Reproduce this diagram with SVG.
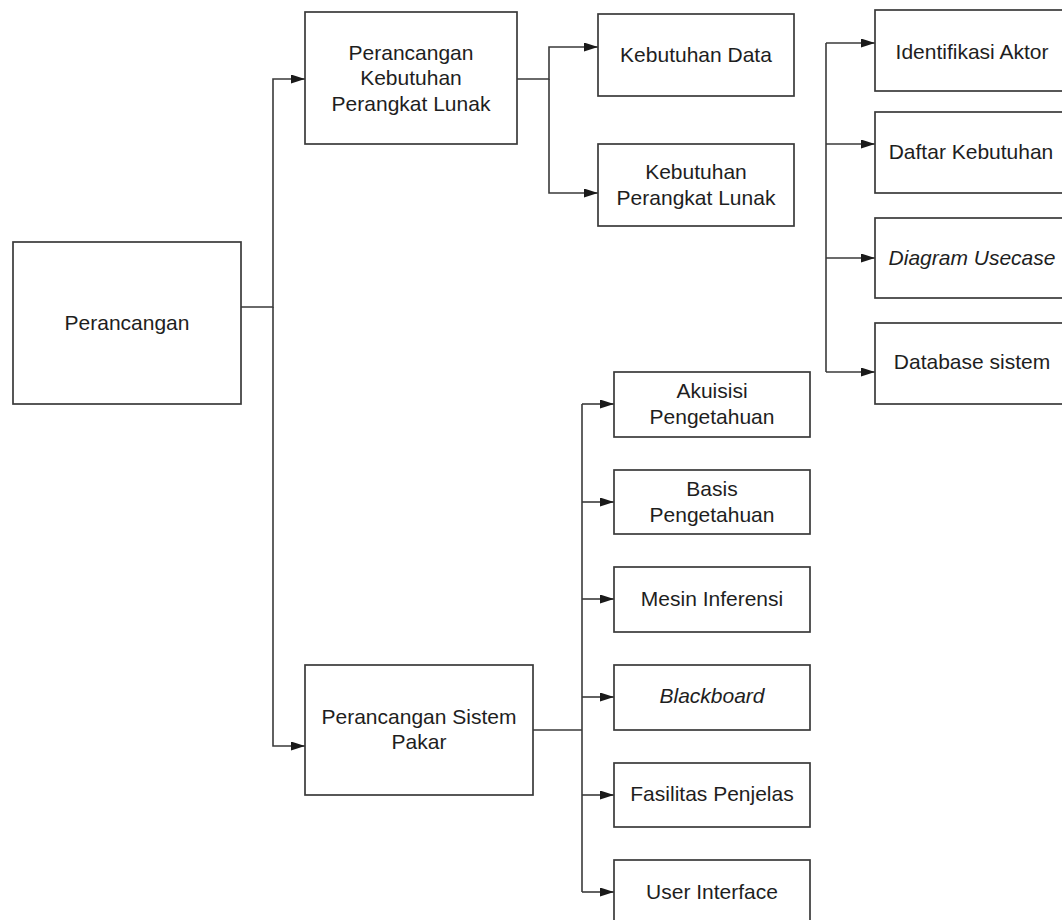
<svg xmlns="http://www.w3.org/2000/svg" width="1062" height="920" viewBox="0 0 1062 920">
<defs>
<style>
.box{fill:#fff;stroke:#3a3a3a;stroke-width:1.7}
.ln{fill:none;stroke:#3a3a3a;stroke-width:1.6}
.t{font-family:"Liberation Sans",Arial,sans-serif;font-size:21px;fill:#1e1e1e;text-anchor:middle}
.i{font-style:italic}
</style>
<marker id="ah" markerUnits="userSpaceOnUse" markerWidth="15" markerHeight="10" refX="14" refY="4.5" orient="auto">
<path d="M0,0 L14,4.5 L0,9 z" fill="#1a1a1a"/>
</marker>
</defs>
<rect width="1062" height="920" fill="#fff"/>
<g id="connectors">
<path class="ln" d="M241,307 H273 V79 H305" marker-end="url(#ah)"/>
<path class="ln" d="M273,307 V746 H305" marker-end="url(#ah)"/>
<path class="ln" d="M517,79 H549 V47 H598" marker-end="url(#ah)"/>
<path class="ln" d="M549,79 V193 H598" marker-end="url(#ah)"/>
<path class="ln" d="M826,43 V372"/>
<path class="ln" d="M826,43 H875" marker-end="url(#ah)"/>
<path class="ln" d="M826,144 H875" marker-end="url(#ah)"/>
<path class="ln" d="M826,258 H875" marker-end="url(#ah)"/>
<path class="ln" d="M826,372 H875" marker-end="url(#ah)"/>
<path class="ln" d="M533,730 H582"/>
<path class="ln" d="M582,404 V892"/>
<path class="ln" d="M582,404 H614" marker-end="url(#ah)"/>
<path class="ln" d="M582,502 H614" marker-end="url(#ah)"/>
<path class="ln" d="M582,599 H614" marker-end="url(#ah)"/>
<path class="ln" d="M582,697 H614" marker-end="url(#ah)"/>
<path class="ln" d="M582,795 H614" marker-end="url(#ah)"/>
<path class="ln" d="M582,892 H614" marker-end="url(#ah)"/>
</g>
<g id="perancangan">
<rect class="box" x="13" y="242" width="228" height="162"/>
<text class="t" x="127" y="330">Perancangan</text>
</g>
<g id="pkpl">
<rect class="box" x="305" y="12" width="212" height="132"/>
<text class="t" x="411" y="59.5">Perancangan</text>
<text class="t" x="411" y="85">Kebutuhan</text>
<text class="t" x="411" y="110.5">Perangkat Lunak</text>
</g>
<g id="kebutuhan-data">
<rect class="box" x="598" y="14" width="196" height="82"/>
<text class="t" x="696" y="61.5">Kebutuhan Data</text>
</g>
<g id="kebutuhan-pl">
<rect class="box" x="598" y="144" width="196" height="82"/>
<text class="t" x="696" y="178.5">Kebutuhan</text>
<text class="t" x="696" y="204.5">Perangkat Lunak</text>
</g>
<g id="identifikasi-aktor">
<rect class="box" x="875" y="10" width="194" height="81"/>
<text class="t" x="972" y="59">Identifikasi Aktor</text>
</g>
<g id="daftar-kebutuhan">
<rect class="box" x="875" y="112" width="194" height="81"/>
<text class="t" x="971" y="159">Daftar Kebutuhan</text>
</g>
<g id="diagram-usecase">
<rect class="box" x="875" y="218" width="194" height="80"/>
<text class="t i" x="972" y="265">Diagram Usecase</text>
</g>
<g id="database-sistem">
<rect class="box" x="875" y="323" width="194" height="81"/>
<text class="t" x="972" y="369">Database sistem</text>
</g>
<g id="psp">
<rect class="box" x="305" y="665" width="228" height="130"/>
<text class="t" x="419" y="723.5">Perancangan Sistem</text>
<text class="t" x="419" y="749">Pakar</text>
</g>
<g id="akuisisi">
<rect class="box" x="614" y="372" width="196" height="65"/>
<text class="t" x="712" y="398">Akuisisi</text>
<text class="t" x="712" y="424">Pengetahuan</text>
</g>
<g id="basis">
<rect class="box" x="614" y="470" width="196" height="64"/>
<text class="t" x="712" y="495.5">Basis</text>
<text class="t" x="712" y="521.5">Pengetahuan</text>
</g>
<g id="mesin">
<rect class="box" x="614" y="567" width="196" height="65"/>
<text class="t" x="712" y="605.5">Mesin Inferensi</text>
</g>
<g id="blackboard">
<rect class="box" x="614" y="665" width="196" height="65"/>
<text class="t i" x="712" y="703">Blackboard</text>
</g>
<g id="fasilitas">
<rect class="box" x="614" y="763" width="196" height="64"/>
<text class="t" x="712" y="800.5">Fasilitas Penjelas</text>
</g>
<g id="user-interface">
<rect class="box" x="614" y="860" width="196" height="65"/>
<text class="t" x="712" y="898.5">User Interface</text>
</g>
</svg>
